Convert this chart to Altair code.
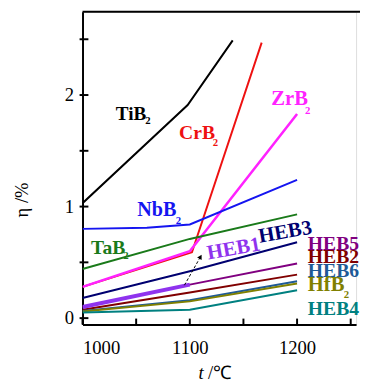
import altair as alt
import pandas as pd

# ---- data ----
series_x = {
    "TiB2": [1000, 1098, 1140],
    "CrB2": [1000, 1102, 1167],
    "ZrB2": [1000, 1100, 1200],
    "NbB2": [1000, 1060, 1100, 1200],
    "TaB2": [1000, 1100, 1200],
    "HEB3": [1000, 1100, 1200],
    "HEB1": [1000, 1100],
    "HEB5": [1000, 1100, 1200],
    "HEB2": [1000, 1100, 1200],
    "HEB6": [1000, 1100, 1200],
    "HfB2": [1000, 1100, 1200],
    "HEB4": [1000, 1100, 1200],
}
series_y = {
    "TiB2": [1.03, 1.91, 2.49],
    "CrB2": [0.28, 0.59, 2.47],
    "ZrB2": [0.28, 0.60, 1.83],
    "NbB2": [0.80, 0.81, 0.84, 1.24],
    "TaB2": [0.44, 0.71, 0.93],
    "HEB3": [0.18, 0.42, 0.68],
    "HEB1": [0.10, 0.30],
    "HEB5": [0.10, 0.30, 0.49],
    "HEB2": [0.075, 0.23, 0.39],
    "HEB6": [0.065, 0.16, 0.33],
    "HfB2": [0.06, 0.15, 0.31],
    "HEB4": [0.05, 0.075, 0.25],
}
draw_order = ["TiB2", "CrB2", "ZrB2", "NbB2", "TaB2", "HEB3", "HEB5", "HEB2",
              "HEB6", "HfB2", "HEB4", "HEB1"]
colors = {
    "TiB2": "#000000", "CrB2": "#ee1111", "ZrB2": "#ff22ff", "NbB2": "#1515f0",
    "TaB2": "#1a7a1a", "HEB3": "#000070", "HEB1": "#8f33ee", "HEB5": "#800080",
    "HEB2": "#800000", "HEB6": "#1f5a96", "HfB2": "#808000", "HEB4": "#008080",
}
widths = {k: 2.0 for k in colors}
widths["HEB1"] = 4.0
widths["ZrB2"] = 2.6

# labels: main text (left aligned), x, y
label_text = ["TiB", "CrB", "ZrB", "NbB", "TaB", "HEB5", "HEB2", "HEB6", "HfB", "HEB4"]
label_series = ["TiB2", "CrB2", "ZrB2", "NbB2", "TaB2", "HEB5", "HEB2", "HEB6", "HfB2", "HEB4"]
label_x = [1031, 1090, 1176, 1051, 1008, 1210, 1210, 1210, 1210, 1210]
label_y = [1.83, 1.66, 1.96, 0.97, 0.63, 0.665, 0.55, 0.42, 0.295, 0.085]
label_size = [19.5, 20, 21, 20.5, 20, 20, 20, 20, 21, 20]

sub_series = ["TiB2", "CrB2", "ZrB2", "NbB2", "TaB2", "HfB2"]
sub_x = [1061, 1124, 1210, 1089.5, 1040.5, 1246]
sub_y = [1.77, 1.57, 1.855, 0.87, 0.56, 0.21]

rot_text = ["HEB1", "HEB3"]
rot_series = ["HEB1", "HEB3"]
rot_x = [1141, 1189]
rot_y = [0.62, 0.77]

arrow_x = [1095, 1110]
arrow_y = [0.295, 0.55]

x_ticks = [1000, 1100, 1200]
x_minor = [1050, 1150, 1250]
y_ticks = [0, 1, 2]
y_minor = [0.5, 1.5, 2.5]

X_DOM = [1000, 1255]
Y_DOM = [-0.057, 2.747]
W, H = 279, 319
FONT = "Liberation Serif, Times New Roman, serif"

rows = []
for s in draw_order:
    for i, (xv, yv) in enumerate(zip(series_x[s], series_y[s])):
        rows.append({"series": s, "x": xv, "y": yv, "i": i})
df = pd.DataFrame(rows)

xs = alt.Scale(domain=X_DOM, nice=False, zero=False)
ys = alt.Scale(domain=Y_DOM, nice=False, zero=False)

base_axes = alt.Chart(pd.DataFrame({"x": [1000], "y": [0]})).mark_point(opacity=0).encode(
    x=alt.X("x:Q", scale=xs, axis=alt.Axis(values=x_ticks, format="d", title=None,
                                            labelFont=FONT, labelFontSize=19, labelColor="black",
                                            ticks=False, labelPadding=15, domainColor="black",
                                            domainWidth=2, grid=False)),
    y=alt.Y("y:Q", scale=ys, axis=alt.Axis(values=y_ticks, format="d", title=None,
                                            labelFont=FONT, labelFontSize=19, labelColor="black",
                                            ticks=False, labelPadding=9, domainColor="black",
                                            domainWidth=2, grid=False)),
)

lines = []
for s in draw_order:
    sub = df[df.series == s]
    lines.append(alt.Chart(sub).mark_line(strokeWidth=widths[s], color=colors[s], clip=True).encode(
        x=alt.X("x:Q", scale=xs), y=alt.Y("y:Q", scale=ys), order="i:Q"))

lab_df = pd.DataFrame({"t": label_text, "x": label_x, "y": label_y,
                       "c": [colors[s] for s in label_series], "sz": label_size})
labels = alt.Chart(lab_df).mark_text(font=FONT, fontWeight="bold", align="left",
                                     baseline="middle").encode(
    x=alt.X("x:Q", scale=xs), y=alt.Y("y:Q", scale=ys), text="t:N",
    color=alt.Color("c:N", scale=None), size=alt.Size("sz:Q", scale=None))

sub_df = pd.DataFrame({"t": ["2"] * len(sub_series), "x": sub_x, "y": sub_y,
                       "c": [colors[s] for s in sub_series]})
subs = alt.Chart(sub_df).mark_text(font=FONT, fontWeight="bold", fontSize=11, align="center",
                                   baseline="middle").encode(
    x=alt.X("x:Q", scale=xs), y=alt.Y("y:Q", scale=ys), text="t:N",
    color=alt.Color("c:N", scale=None))

rot_df = pd.DataFrame({"t": rot_text, "x": rot_x, "y": rot_y,
                       "c": [colors[s] for s in rot_series]})
rots = alt.Chart(rot_df).mark_text(font=FONT, fontWeight="bold", fontSize=21, align="center",
                                   baseline="middle", angle=350).encode(
    x=alt.X("x:Q", scale=xs), y=alt.Y("y:Q", scale=ys), text="t:N",
    color=alt.Color("c:N", scale=None))

arr_df = pd.DataFrame({"x": [arrow_x[0]], "y": [arrow_y[0]], "x2": [arrow_x[1]], "y2": [arrow_y[1]]})
arrow_line = alt.Chart(arr_df).mark_rule(strokeDash=[3, 2], strokeWidth=1, color="black").encode(
    x=alt.X("x:Q", scale=xs), y=alt.Y("y:Q", scale=ys), x2="x2:Q", y2="y2:Q")
head_df = pd.DataFrame({"x": [arrow_x[1]], "y": [arrow_y[1]]})
arrow_head = alt.Chart(head_df).mark_point(shape="triangle-up", filled=True, size=28,
                                           color="black", angle=30, opacity=1).encode(
    x=alt.X("x:Q", scale=xs), y=alt.Y("y:Q", scale=ys))

# inward tick marks
xt_df = pd.DataFrame({"x": x_ticks + x_minor})
xticks = alt.Chart(xt_df).mark_rule(color="black", strokeWidth=2).encode(
    x=alt.X("x:Q", scale=xs), y=alt.value(H), y2=alt.value(H - 6))
yt_df = pd.DataFrame({"y": y_ticks + y_minor})
yticks = alt.Chart(yt_df).mark_rule(color="black", strokeWidth=2).encode(
    y=alt.Y("y:Q", scale=ys), x=alt.value(-3), x2=alt.value(6))

top_border = alt.Chart(pd.DataFrame({"a": [0]})).mark_rule(color="black", strokeWidth=2).encode(
    x=alt.value(0), x2=alt.value(W + 5), y=alt.value(0))

xt1 = alt.Chart(pd.DataFrame({"t": ["t"]})).mark_text(font=FONT, fontSize=19, fontStyle="italic",
                                                      align="center", baseline="middle").encode(
    text="t:N", x=alt.value(121), y=alt.value(369))
xt2 = alt.Chart(pd.DataFrame({"t": ["/℃"]})).mark_text(font=FONT, fontSize=19,
                                                       align="left", baseline="middle").encode(
    text="t:N", x=alt.value(128), y=alt.value(369))
ytitle = alt.Chart(pd.DataFrame({"t": ["η /%"]})).mark_text(font=FONT, fontSize=19, angle=270,
                                                           align="center", baseline="middle").encode(
    text="t:N", x=alt.value(-62), y=alt.value(192))

chart = alt.layer(base_axes, *lines, arrow_line, arrow_head, labels, subs, rots,
                  xticks, yticks, top_border, xt1, xt2, ytitle).properties(
    width=W, height=H,
    autosize=alt.AutoSizeParams(type="none"),
    padding={"left": 76, "top": 0, "right": 4, "bottom": 61},
).configure_view(stroke=None).configure(background="white")

chart.save("out.html", embed_options={"renderer": "svg", "actions": False})
